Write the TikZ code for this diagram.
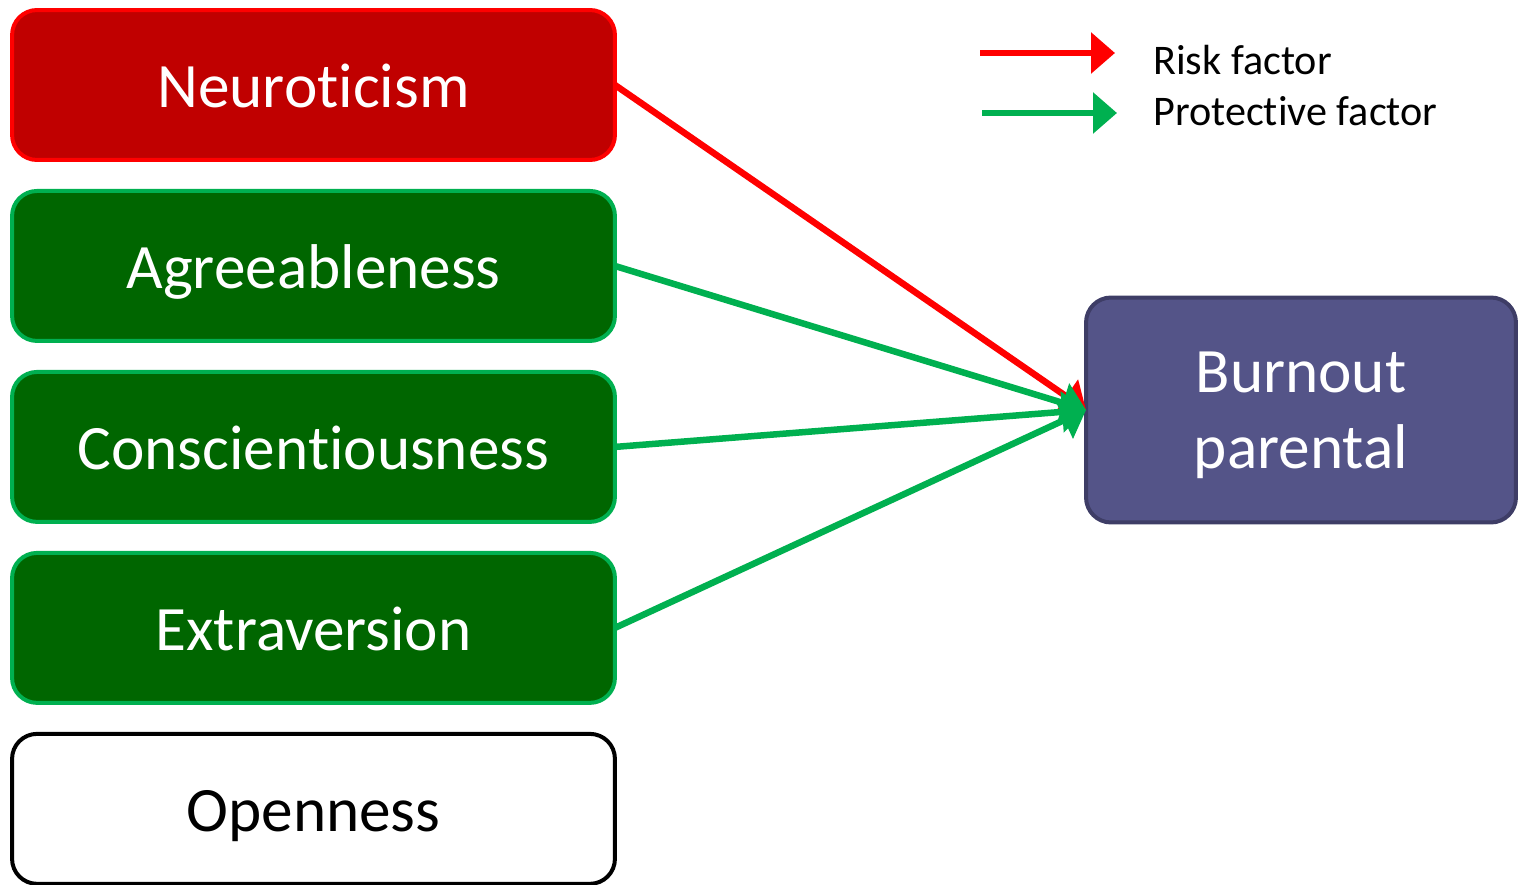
\documentclass[tikz,border=0pt]{standalone}
\usepackage{fontspec}
\setmainfont{Carlito}[Ligatures=NoCommon]
\usetikzlibrary{positioning,arrows.meta}

\definecolor{riskfill}{HTML}{C00000}
\definecolor{riskline}{HTML}{FF0000}
\definecolor{protfill}{HTML}{006600}
\definecolor{protline}{HTML}{00B050}
\definecolor{burnfill}{HTML}{545488}
\definecolor{burnline}{HTML}{3E3D66}

\begin{document}
\begin{tikzpicture}[
		x=0.02cm, y=-0.02cm,
		box/.style = {
			draw, rectangle, rounded corners=0.5cm,
			line width=0.08cm,
			outer sep=0cm, inner sep=0cm,
			font=\fontsize{36}{43}\selectfont
		},
		trait/.style = {
			box,
			minimum width=12.06cm,
			minimum height=3cm,
			text height=1cm, text depth=0.1cm,
			node distance=0.62cm
		},
		risk/.style = {trait, fill=riskfill, draw=riskline, text=white},
		protect/.style = {trait, fill=protfill, draw=protline, text=white},
		neutral/.style = {trait, fill=white, draw=black, text=black},
		factor/.style = {line width=0.13cm, -{Triangle[length=0.48cm,width=0.8cm]}},
		legend/.style = {anchor=base west, inner sep=0cm, font=\fontsize{24}{29}\selectfont}
		]
		\useasboundingbox (0,0) rectangle (1519,885);
		\node[risk] (neuro) at (313.5,85) {Neuroticism};
		\node[protect, below=of neuro] (agree) {Agreeableness};
		\node[protect, below=of agree] (consc) {Conscientiousness};
		\node[protect, below=of consc] (extra) {Extraversion};
		\node[neutral, below=of extra] (open) {Openness};
		\node[box, fill=burnfill, draw=burnline, text=white, align=center, text depth=0cm,
			minimum width=8.6cm, minimum height=4.5cm] (burnout) at (1301,410) {Burnout\\parental};
		\draw[factor, riskline] (neuro.east) -- (burnout.west);
		\draw[factor, protline] (agree.east) -- (burnout.west);
		\draw[factor, protline] (consc.east) -- (burnout.west);
		\draw[factor, protline] (extra.east) -- (burnout.west);
		% legend
		\coordinate (riskA) at (980,53);
		\coordinate (riskB) at (1115,53);
		\coordinate (protA) at (982,113);
		\coordinate (protB) at (1117,113);
		\draw[factor, riskline] (riskA) -- (riskB);
		\draw[factor, protline] (protA) -- (protB);
		\node[legend] (risktxt) at (1153,75) {Risk factor};
		\node[legend] (prottxt) at (1153,126) {Protective factor};
	\end{tikzpicture}
\end{document}
